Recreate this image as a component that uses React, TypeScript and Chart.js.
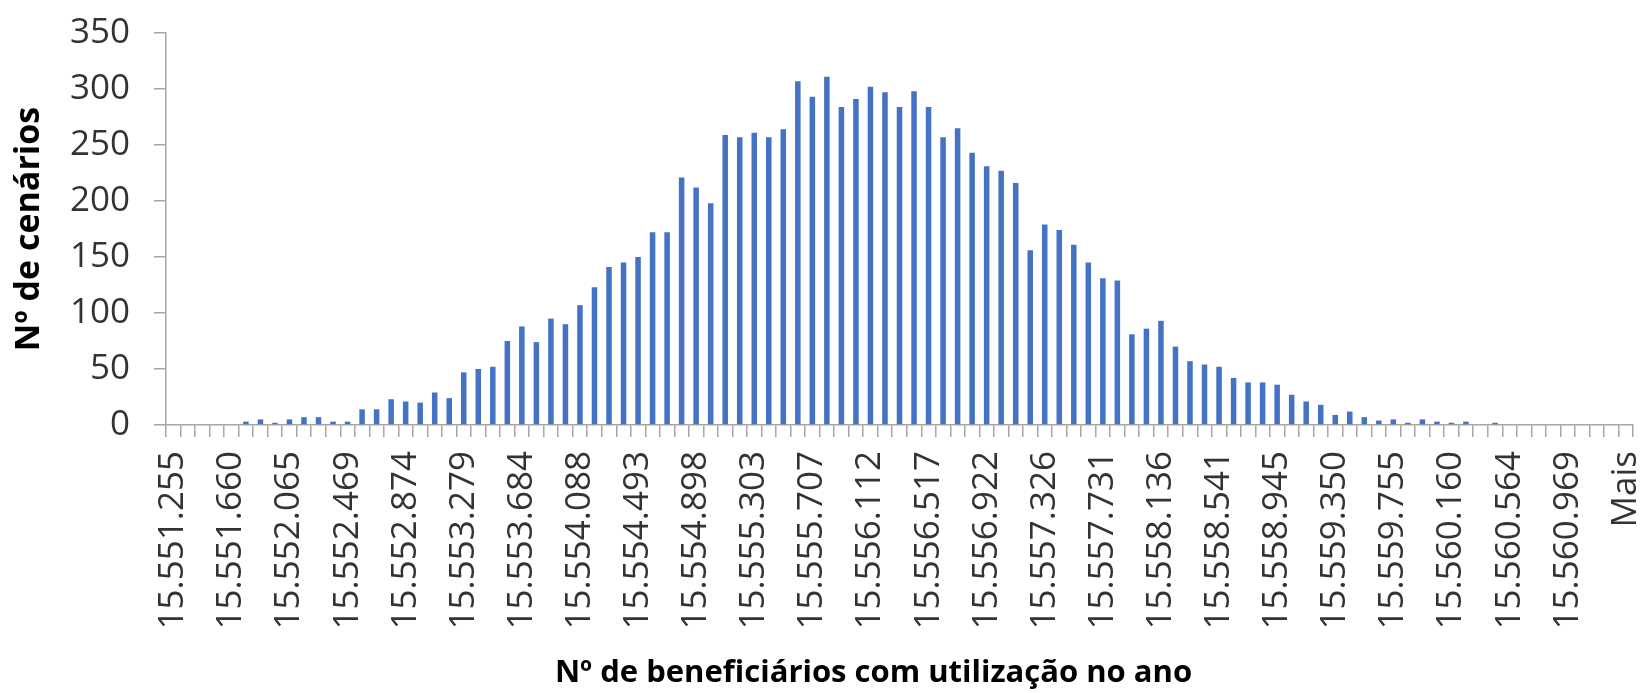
import React, { useEffect, useRef } from "react";
import { Chart, registerables } from "chart.js";

Chart.register(...registerables);

// Histogram counts, one per bin (100 numeric bins + "Mais")
const counts: number[] = [
  0, 0, 0, 0, 0, 3, 5, 2, 5, 7,
  7, 3, 3, 14, 14, 23, 21, 20, 29, 24,
  47, 50, 52, 75, 88, 74, 95, 90, 107, 123,
  141, 145, 150, 172, 172, 221, 212, 198, 259, 257,
  261, 257, 264, 307, 293, 311, 284, 291, 302, 297,
  284, 298, 284, 257, 265, 243, 231, 227, 216, 156,
  179, 174, 161, 145, 131, 129, 81, 86, 93, 70,
  57, 54, 52, 42, 38, 38, 36, 27, 21, 18,
  9, 12, 7, 4, 5, 2, 5, 3, 2, 3,
  0, 2, 0, 0, 0, 0, 0, 0, 0, 0,
  0,
];

// Visible tick labels (every 4th bin)
const tickLabels: string[] = [
  "15.551.255", "15.551.660", "15.552.065", "15.552.469", "15.552.874",
  "15.553.279", "15.553.684", "15.554.088", "15.554.493", "15.554.898",
  "15.555.303", "15.555.707", "15.556.112", "15.556.517", "15.556.922",
  "15.557.326", "15.557.731", "15.558.136", "15.558.541", "15.558.945",
  "15.559.350", "15.559.755", "15.560.160", "15.560.564", "15.560.969",
  "Mais",
];
const tickEvery = 4;

const yMin = 0;
const yMax = 350;
const yStep = 50;

const xTitle = "Nº de beneficiários com utilização no ano";
const yTitle = "Nº de cenários";

const xTitlePlugin = {
  id: "xTitleOffset",
  afterDraw(chart: any) {
    const { ctx, chartArea } = chart;
    ctx.save();
    ctx.font = "bold 31px 'Open Sans'";
    ctx.fillStyle = "#000000";
    ctx.textAlign = "center";
    ctx.textBaseline = "alphabetic";
    const cx = (chartArea.left + chartArea.right) / 2 - 26;
    ctx.fillText(xTitle, cx, chart.height - 11);
    ctx.restore();
  },
};

export default function App() {
  const ref = useRef<HTMLCanvasElement | null>(null);

  useEffect(() => {
    document.body.style.margin = "0";
    const canvas = ref.current;
    if (!canvas) return;
    const labels = counts.map((_, i) =>
      i % tickEvery === 0 ? tickLabels[i / tickEvery] ?? "" : ""
    );
    const axisColor = "#A6A6A6";
    const labelColor = "#333333";
    const chart = new Chart(canvas, {
      type: "bar",
      data: {
        labels,
        datasets: [
          {
            data: counts,
            backgroundColor: "#4472C4",
            borderWidth: 0,
            categoryPercentage: 1,
            barPercentage: 0.38,
          },
        ],
      },
      plugins: [xTitlePlugin],
      options: {
        animation: false,
        responsive: false,
        maintainAspectRatio: false,
        layout: { padding: { top: 33, right: 11, left: 0, bottom: 0 } },
        plugins: {
          legend: { display: false },
          tooltip: { enabled: false },
        },
        scales: {
          x: {
            grid: {
              display: true,
              drawOnChartArea: false,
              drawTicks: true,
              tickLength: 12,
              color: axisColor,
              lineWidth: 1.5,
              offset: true,
            },
            border: { display: true, color: axisColor, width: 1.5 },
            ticks: {
              autoSkip: false,
              maxRotation: 90,
              minRotation: 90,
              padding: 14,
              color: labelColor,
              font: { family: "Open Sans", size: 35 },
            },
            title: { display: false },
            afterFit: (scale: any) => {
              scale.height = 268;
              scale.paddingLeft = 0;
              scale.paddingRight = 0;
            },
          },
          y: {
            min: yMin,
            max: yMax,
            grid: {
              display: true,
              drawOnChartArea: false,
              drawTicks: true,
              tickLength: 12,
              color: axisColor,
              lineWidth: 1.5,
            },
            border: { display: true, color: axisColor, width: 1.5 },
            ticks: {
              stepSize: yStep,
              padding: 24,
              color: labelColor,
              font: { family: "Open Sans", size: 35 },
            },
            title: {
              display: true,
              text: yTitle,
              color: "#000000",
              font: { family: "Open Sans", size: 34, weight: "bold" },
              padding: { top: 9, bottom: 0 },
            },
            afterFit: (scale: any) => {
              scale.width = 166;
              scale.paddingTop = 0;
              scale.paddingBottom = 0;
            },
          },
        },
      },
    });
    return () => chart.destroy();
  }, []);

  return (
    <div style={{ width: 1644, height: 693 }}>
      <canvas ref={ref} width={1644} height={693} style={{ display: "block" }} />
    </div>
  );
}
